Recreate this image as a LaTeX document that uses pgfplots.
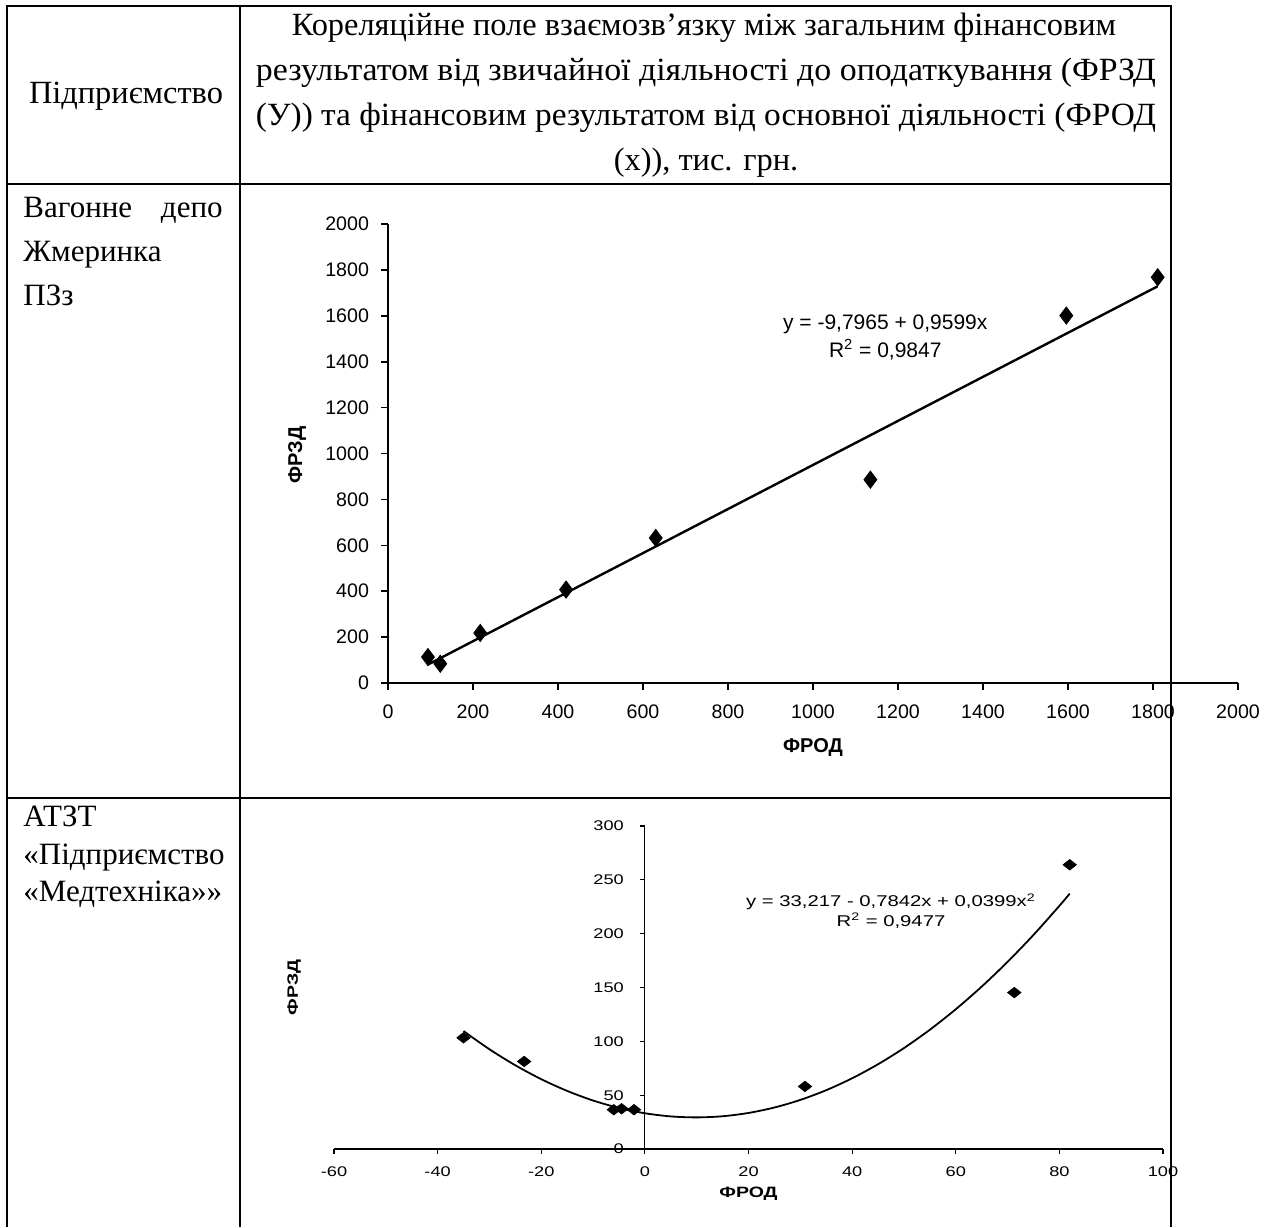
\documentclass[border=0pt]{standalone}
\usepackage{fontspec}
\setmainfont{Liberation Serif}
\newfontfamily\chartfont{Liberation Sans}
\newfontfamily\chartfontS[FakeStretch=1.3]{Liberation Sans}
\usepackage{graphicx}
\usepackage{pgfplots}
\pgfplotsset{compat=1.18}

\pgfplotstableread{
x y
94 113
123 84
217 218
419 407
630 632
1135 886
1596 1601
1811 1768
}\dataA

\pgfplotstableread{
x y
-35.0 103.3
-23.3 81.3
-6.0 36.5
-4.5 37.4
-2.1 36.5
30.9 58.1
71.3 145.3
82.0 264.0
}\dataB

\begin{document}
\begin{tikzpicture}
\path[use as bounding box] (0,0) rectangle (637.5pt,-613.5pt);
% table rules
\draw[line width=1.1pt, line join=miter] (3.5pt,-613.5pt) -- (3.5pt,-3pt) -- (585.5pt,-3pt) -- (585.5pt,-613.5pt);
\draw[line width=1.1pt] (3.5pt,-92pt) -- (585.5pt,-92pt);
\draw[line width=1.1pt] (3.5pt,-399pt) -- (585.5pt,-399pt);
\draw[line width=1.1pt] (120pt,-3pt) -- (120pt,-613.5pt);

% header text
\begin{scope}[every node/.style={font=\fontsize{16.2}{18}\selectfont, inner sep=0pt, anchor=base}]
\node at (352pt,-17.5pt) {Кореляційне поле взаємозв’язку між загальним фінансовим};
\node at (353pt,-40pt) {\resizebox{450pt}{\height}{результатом від звичайної діяльності до оподаткування (ФРЗД}};
\node at (353pt,-62.5pt) {\resizebox{450pt}{\height}{(У)) та фінансовим результатом від основної діяльності (ФРОД}};
\node at (353pt,-85pt) {(х)), тис. грн.};
\node at (63pt,-51.5pt) {Підприємство};
\end{scope}
\begin{scope}[every node/.style={font=\fontsize{15.5}{18}\selectfont, inner sep=0pt, anchor=base}]
\node[anchor=base west] at (11.5pt,-108.5pt) {Вагонне};
\node[anchor=base east] at (111.5pt,-108.5pt) {депо};
\node[anchor=base west] at (11.5pt,-130.5pt) {Жмеринка};
\node[anchor=base west] at (11.5pt,-152.5pt) {ПЗз};
\node[anchor=base west] at (11.5pt,-413pt) {АТЗТ};
\node[anchor=base west] at (11.5pt,-432pt) {«Підприємство};
\node[anchor=base west] at (11.5pt,-450.5pt) {«Медтехніка»»};
\end{scope}

% chart 1
\begin{axis}[
  at={(194pt,-341.5pt)}, anchor=south west,
  scale only axis, width=425pt, height=229.5pt,
  xmin=0, xmax=2000, ymin=0, ymax=2000,
  axis x line*=bottom, axis y line*=left,
  axis line style={line width=0.8pt, -},
  xtick={0,200,...,2000}, ytick={0,200,...,2000},
  tick align=outside, major tick length=3.5pt,
  tick style={line width=0.8pt, black},
  ticklabel style={font=\chartfont\fontsize{9.8}{11}\selectfont},
  xticklabel style={yshift=-4pt},
  yticklabel style={xshift=-2.5pt},
  /pgf/number format/1000 sep={},
  /pgf/number format/assume math mode=true,
  xlabel={ФРОД}, ylabel={ФРЗД},
  label style={font=\chartfont\bfseries\fontsize{10}{12}\selectfont},
  xlabel style={at={(axis description cs:0.5,-0.1416)}, anchor=center},
  ylabel style={at={(axis description cs:-0.107,0.497)}, anchor=center},
  clip=false,
]
\addplot[line width=1.2pt, black] coordinates {(94,80.4) (1811,1728.6)};
\addplot[only marks, mark=diamond*, mark size=4.3pt, black] table[x=x,y=y] {\dataA};
\node[font=\chartfont\fontsize{10.5}{12}\selectfont, anchor=base, inner sep=0pt] at (axis cs:1170,1542) {y = -9,7965 + 0,9599x};
\node[font=\chartfont\fontsize{10.5}{12}\selectfont, anchor=base, inner sep=0pt] at (axis cs:1170,1420) {R\textsuperscript{2} = 0,9847};
\end{axis}

% chart 2
\begin{axis}[
  at={(167pt,-574.5pt)}, anchor=south west,
  scale only axis, width=414.5pt, height=161.5pt,
  xmin=-60, xmax=100, ymin=0, ymax=300,
  axis lines=middle,
  axis line style={line width=0.6pt, -},
  hide obscured x ticks=false, hide obscured y ticks=false,
  xtick={-60,-40,...,100}, ytick={0,50,...,300},
  tick align=outside, major tick length=2.5pt,
  tick style={line width=0.6pt, black},
  ticklabel style={font=\chartfontS\fontsize{7}{8}\selectfont},
  xticklabel style={yshift=-3pt},
  yticklabel style={xshift=-4.5pt},
  /pgf/number format/1000 sep={},
  /pgf/number format/assume math mode=true,
  xlabel={ФРОД}, ylabel={ФРЗД},
  label style={font=\chartfontS\bfseries\fontsize{7.5}{9}\selectfont},
  xlabel style={at={(axis description cs:0.5,-0.139)}, anchor=center},
  ylabel style={at={(axis description cs:-0.048,0.5)}, anchor=center, rotate=90},
  clip=false,
]
\addplot[line width=0.9pt, black, smooth] coordinates {
(-35,109.54) (-30,92.65) (-25,77.76) (-20,64.86) (-15,53.96) (-10,45.05) (-5,38.14) (0,33.22)
(5,30.29) (10,29.37) (15,30.43) (20,33.49) (25,38.55) (30,45.60) (35,54.65) (40,65.69)
(45,78.73) (50,93.76) (55,110.78) (60,129.81) (65,150.82) (70,173.83) (75,198.84) (80,225.84) (82,237.20)};
\addplot[only marks, mark=diamond*, mark size=2.6pt, mark options={xscale=1.7}, black] table[x=x,y=y] {\dataB};
\node[font=\chartfontS\fontsize{7.8}{9}\selectfont, anchor=base, inner sep=0pt] at (axis cs:47.5,225) {y = 33,217 - 0,7842x + 0,0399x\textsuperscript{2}};
\node[font=\chartfontS\fontsize{7.8}{9}\selectfont, anchor=base, inner sep=0pt] at (axis cs:47.5,207) {R\textsuperscript{2} = 0,9477};
\end{axis}
\end{tikzpicture}
\end{document}
